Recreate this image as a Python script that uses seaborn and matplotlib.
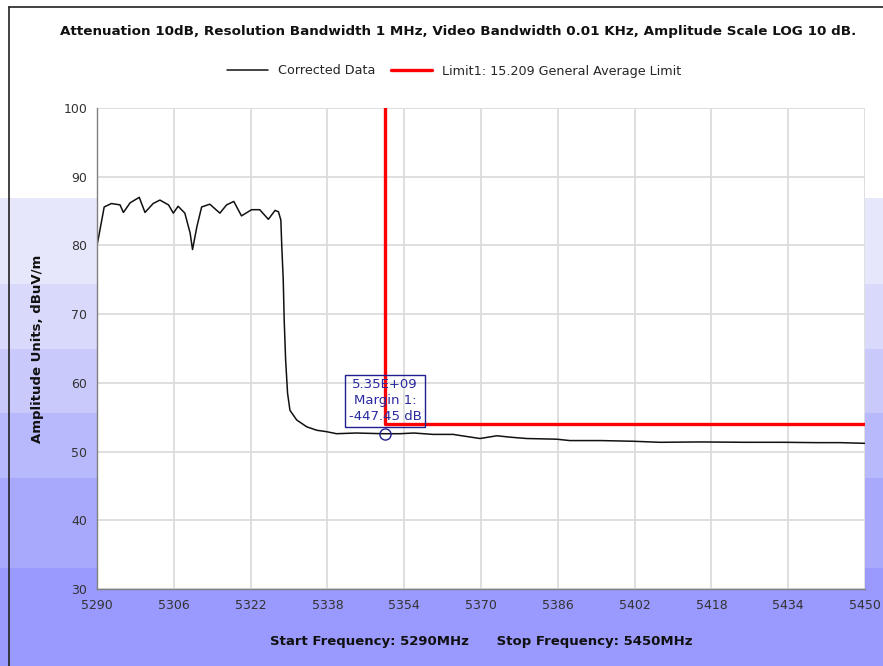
import numpy as np
import pandas as pd
import matplotlib.pyplot as plt
import seaborn as sns
from matplotlib.patches import Rectangle

sns.set_theme(style="whitegrid")
plt.rcParams['font.family'] = ['DejaVu Sans']

# Dane
freq = [5290.0, 5290.6, 5291.5, 5293.0, 5294.8, 5295.5, 5296.9, 5298.8, 5300.0,
        5301.7, 5303.1, 5304.9, 5305.9, 5306.9, 5308.3, 5309.4, 5309.9, 5310.8,
        5311.8, 5313.5, 5315.6, 5317.0, 5318.5, 5320.1, 5322.2, 5323.9, 5325.7,
        5327.1, 5327.8, 5328.3, 5328.5, 5328.8, 5329.0, 5329.3, 5329.7, 5330.2,
        5331.6, 5333.7, 5335.8, 5337.8, 5339.9, 5344.0, 5349.6, 5353.1, 5356.0,
        5360.0, 5364.2, 5366.0, 5369.8, 5373.3, 5376.0, 5379.5, 5385.8, 5388.5,
        5395.0, 5401.7, 5407.3, 5415.6, 5425.0, 5433.0, 5439.9, 5444.8, 5450.0]
amplitude = [80.0, 82.2, 85.6, 86.1, 85.9, 84.8, 86.2, 87.0, 84.8,
             86.1, 86.6, 85.9, 84.7, 85.7, 84.7, 81.8, 79.4, 82.7,
             85.6, 86.0, 84.7, 85.9, 86.4, 84.3, 85.2, 85.2, 83.8,
             85.1, 84.9, 83.7, 79.8, 75.0, 69.1, 63.3, 58.5, 56.0,
             54.6, 53.6, 53.1, 52.9, 52.6, 52.7, 52.6, 52.6, 52.7,
             52.5, 52.5, 52.3, 51.9, 52.3, 52.1, 51.9, 51.8, 51.6,
             51.6, 51.5, 51.35, 51.4, 51.35, 51.35, 51.3, 51.3, 51.2]

limit_freq = [5350, 5350, 5450]
limit_val = [100, 54.0, 54.0]

marker_freq = 5350
marker_val = 52.6
marker_text = "5.35E+09\nMargin 1:\n-447.45 dB"

x_ticks = [5290, 5306, 5322, 5338, 5354, 5370, 5386, 5402, 5418, 5434, 5450]
y_ticks = [30, 40, 50, 60, 70, 80, 90, 100]

df = pd.DataFrame({'freq': freq, 'amp': amplitude})

fig = plt.figure(figsize=(8.83, 6.66), dpi=100)
fig.patch.set_facecolor('white')

# Tło z pasami tylko na marginesach (w pikselach)
bg = fig.add_axes([0, 0, 1, 1], zorder=-5)
bg.set_xlim(0, 883)
bg.set_ylim(666, 0)
bg.axis('off')
band_edges = [198, 284, 349, 413, 478, 568, 666]
band_colors = ['#e7e7fc', '#d9d9fc', '#c9c9fc', '#b8b8fc', '#a8a8fd', '#9999fe']
for i, c in enumerate(band_colors):
    y0, y1 = band_edges[i], band_edges[i + 1]
    # lewy i prawy margines
    bg.add_patch(Rectangle((0, y0), 97, y1 - y0, facecolor=c, edgecolor='none'))
    bg.add_patch(Rectangle((865, y0), 18, y1 - y0, facecolor=c, edgecolor='none'))
    # pod osią
    if y1 > 589:
        top = max(y0, 589)
        bg.add_patch(Rectangle((97, top), 768, y1 - top, facecolor=c, edgecolor='none'))
bg.plot([9, 9], [7, 666], color='#222222', lw=1.2)
bg.plot([9, 883], [7, 7], color='#222222', lw=1.2)

ax = fig.add_axes([97 / 883, 1 - 589 / 666, 768 / 883, 481 / 666], zorder=1)
ax.set_facecolor('white')

sns.lineplot(data=df, x='freq', y='amp', ax=ax, color='#111111', lw=1.1,
             label='Corrected Data')
ax.plot(limit_freq, limit_val, color='#ff0000', lw=2.4,
        label='Limit1: 15.209 General Average Limit')

ax.plot([marker_freq], [marker_val], marker='o', ms=8, mfc='none',
        mec='#1f1f8f', mew=1.0, zorder=5)
ax.text(marker_freq, 57.4, marker_text, ha='center', va='center',
        fontsize=9.5, color='#2a2aa0', linespacing=1.3,
        bbox=dict(boxstyle='square,pad=0.25', fc='none', ec='#1f1f8f', lw=1.0))

ax.set_xlim(5290, 5450)
ax.set_ylim(30, 100)
ax.set_xticks(x_ticks)
ax.set_yticks(y_ticks)
ax.grid(True, color='#dcdcdc', lw=1.3)
for s in ['top', 'right']:
    ax.spines[s].set_visible(False)
for s in ['left', 'bottom']:
    ax.spines[s].set_visible(True)
    ax.spines[s].set_color('#808080')
    ax.spines[s].set_linewidth(1.0)
ax.tick_params(axis='both', which='major', direction='out', length=5, width=1,
               color='#808080', labelsize=9, labelcolor='#333333', pad=2)

ax.set_xlabel('Start Frequency: 5290MHz      Stop Frequency: 5450MHz',
              fontsize=9.5, fontweight='bold', color='#111111', labelpad=17)
ax.set_ylabel('Amplitude Units, dBuV/m', fontsize=9.5, fontweight='bold',
              color='#111111', labelpad=14)

ax.get_legend().remove()
handles, labels = ax.get_legend_handles_labels()
fig.legend(handles, labels, loc='center', ncol=2, frameon=False,
           bbox_to_anchor=(454 / 883, 1 - 71 / 666), fontsize=9.2,
           handlelength=3.2, columnspacing=1.2, handletextpad=0.8)

fig.text(458 / 883, 1 - 31 / 666,
         'Attenuation 10dB, Resolution Bandwidth 1 MHz, Video Bandwidth 0.01 KHz, Amplitude Scale LOG 10 dB.',
         ha='center', va='center', fontsize=9.7, fontweight='bold', color='#111111')

fig.savefig('out.png', dpi=100)
